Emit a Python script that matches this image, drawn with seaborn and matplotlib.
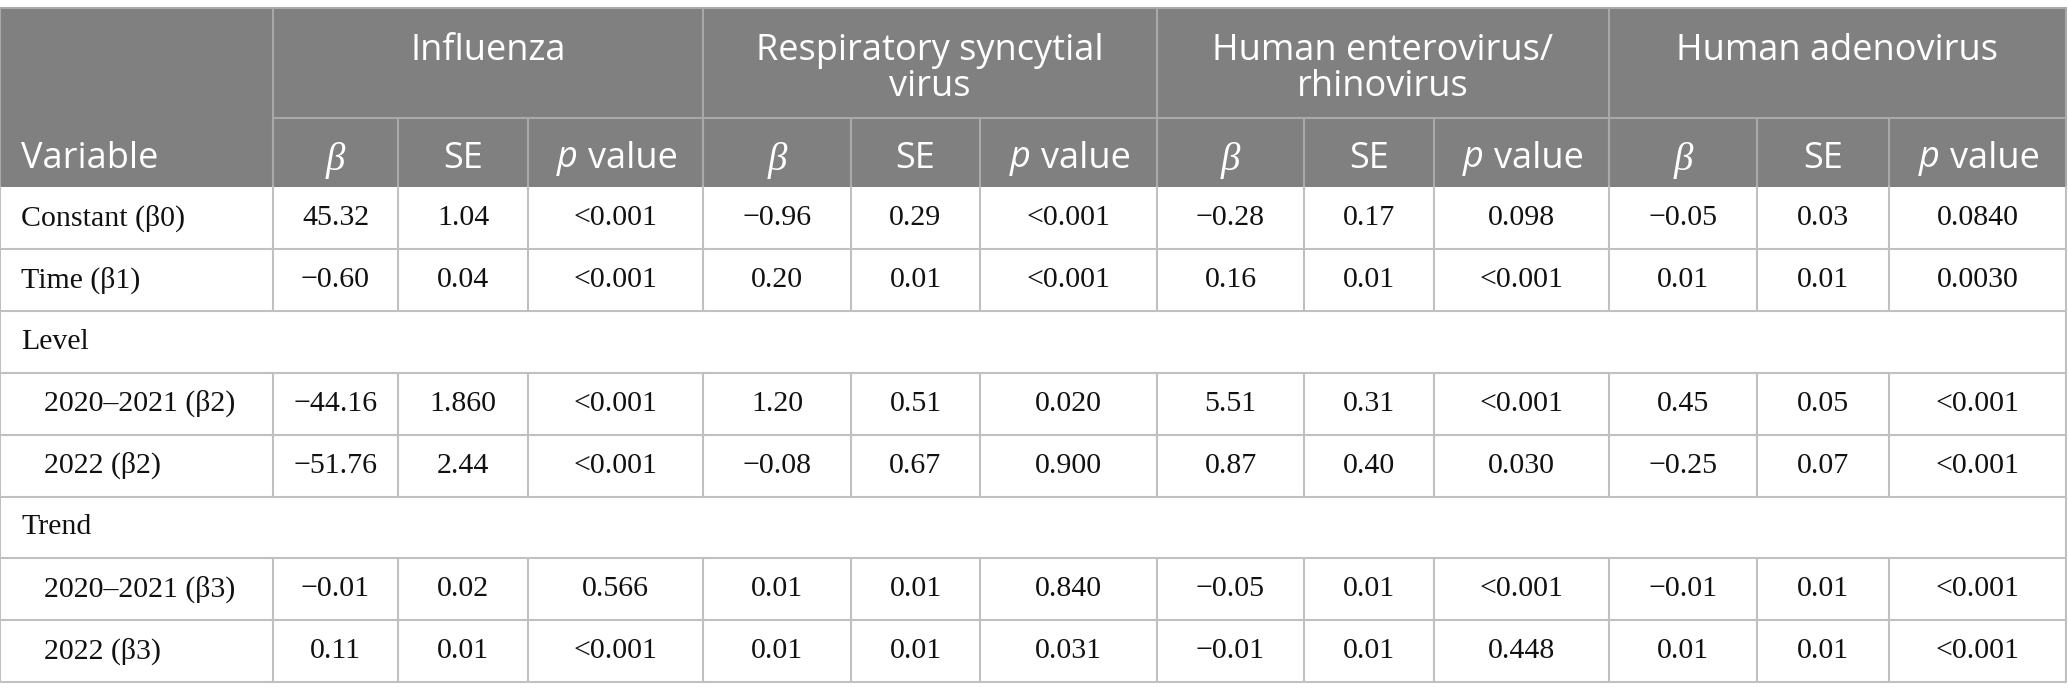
import seaborn as sns
import matplotlib.pyplot as plt
from matplotlib.patches import Rectangle

# table content
variables = ["Constant (β0)", "Time (β1)", "Level", "2020–2021 (β2)", "2022 (β2)",
             "Trend", "2020–2021 (β3)", "2022 (β3)"]
group_rows = ["Level", "Trend"]
indented = [False, False, False, True, True, False, True, True]

viruses = ["Influenza", "Respiratory syncytial\nvirus", "Human enterovirus/\nrhinovirus", "Human adenovirus"]
sub_cols = ["β", "SE", "p value"]

influenza_beta = ["45.32", "−0.60", "", "−44.16", "−51.76", "", "−0.01", "0.11"]
influenza_se = ["1.04", "0.04", "", "1.860", "2.44", "", "0.02", "0.01"]
influenza_p = ["<0.001", "<0.001", "", "<0.001", "<0.001", "", "0.566", "<0.001"]
rsv_beta = ["−0.96", "0.20", "", "1.20", "−0.08", "", "0.01", "0.01"]
rsv_se = ["0.29", "0.01", "", "0.51", "0.67", "", "0.01", "0.01"]
rsv_p = ["<0.001", "<0.001", "", "0.020", "0.900", "", "0.840", "0.031"]
hev_beta = ["−0.28", "0.16", "", "5.51", "0.87", "", "−0.05", "−0.01"]
hev_se = ["0.17", "0.01", "", "0.31", "0.40", "", "0.01", "0.01"]
hev_p = ["0.098", "<0.001", "", "<0.001", "0.030", "", "<0.001", "0.448"]
adv_beta = ["−0.05", "0.01", "", "0.45", "−0.25", "", "−0.01", "0.01"]
adv_se = ["0.03", "0.01", "", "0.05", "0.07", "", "0.01", "0.01"]
adv_p = ["0.0840", "0.0030", "", "<0.001", "<0.001", "", "<0.001", "<0.001"]

columns = [influenza_beta, influenza_se, influenza_p, rsv_beta, rsv_se, rsv_p,
           hev_beta, hev_se, hev_p, adv_beta, adv_se, adv_p]

# layout (pixels)
x_edges = [0, 273, 398, 528, 703, 851, 980, 1157, 1304, 1434, 1609, 1757, 1889, 2066]
top, split, head_bot, row_h = 8, 118, 187, 61.9

sns.set_theme(style='white')
plt.rcParams['font.family'] = ['Liberation Serif', 'DejaVu Serif']

HEAD_BG = '#808080'
HEAD_LINE = '#a9a9a9'
GRID = '#c0c0c0'
head_font = 'Open Sans'
lw = 1.5
body_fs = 21.5

fig = plt.figure(figsize=(20.68, 7), dpi=100)
ax = fig.add_axes([0, 0, 1, 1])
ax.set_xlim(0, 2068)
ax.set_ylim(700, 0)
ax.axis('off')

# header background
ax.add_patch(Rectangle((0, top), x_edges[-1], head_bot - top, color=HEAD_BG, lw=0))
ax.plot([0, x_edges[-1]], [top, top], color=HEAD_LINE, lw=lw)
for x in [x_edges[0], x_edges[1], x_edges[4], x_edges[7], x_edges[10], x_edges[13]]:
    ax.plot([x, x], [top, head_bot], color=HEAD_LINE, lw=lw)
ax.plot([x_edges[1], x_edges[-1]], [split, split], color=HEAD_LINE, lw=lw)
for i in range(1, 13):
    ax.plot([x_edges[i], x_edges[i]], [split, head_bot], color=HEAD_LINE, lw=lw)

# header text
sy = (split + head_bot) / 2 + 6
ax.text(21, sy, "Variable", ha='left', va='center',
        fontsize=26, color='white', family=head_font)
for g, name in enumerate(viruses):
    cx = (x_edges[1 + 3 * g] + x_edges[4 + 3 * g]) / 2
    for k, line in enumerate(name.split("\n")):
        ax.text(cx, 51 + 36 * k, line, ha='center', va='center',
                fontsize=26, color='white', family=head_font)
    for j, lab in enumerate(sub_cols):
        c = 1 + 3 * g + j
        sx = (x_edges[c] + x_edges[c + 1]) / 2
        if lab == "β":
            ax.text(sx, sy + 2, lab, ha='center', va='center', fontsize=28,
                    color='white', family='Liberation Serif', style='italic')
        elif lab == "p value":
            ax.text(sx - 48, sy, "p", ha='center', va='center', fontsize=26,
                    color='white', family=head_font, style='italic')
            ax.text(sx + 17, sy, "value", ha='center', va='center', fontsize=26,
                    color='white', family=head_font)
        else:
            ax.text(sx, sy, lab, ha='center', va='center', fontsize=26,
                    color='white', family=head_font)

# body
for r, var in enumerate(variables):
    y0 = head_bot + r * row_h
    y1 = y0 + row_h
    cy = (y0 + y1) / 2
    ax.plot([0, x_edges[-1]], [y1, y1], color=GRID, lw=lw)
    ax.plot([0, 0], [y0, y1], color=GRID, lw=lw)
    ax.plot([x_edges[-1], x_edges[-1]], [y0, y1], color=GRID, lw=lw)
    ax.text(44 if indented[r] else 21, cy, var, ha='left', va='center',
            fontsize=body_fs, color='#111111')
    if var in group_rows:
        continue
    for i in range(1, 13):
        ax.plot([x_edges[i], x_edges[i]], [y0, y1], color=GRID, lw=lw)
    for c, col in enumerate(columns):
        cx = (x_edges[c + 1] + x_edges[c + 2]) / 2
        ax.text(cx, cy, col[r], ha='center', va='center', fontsize=body_fs, color='#111111')

fig.savefig('out.png', dpi=100, facecolor='white')
